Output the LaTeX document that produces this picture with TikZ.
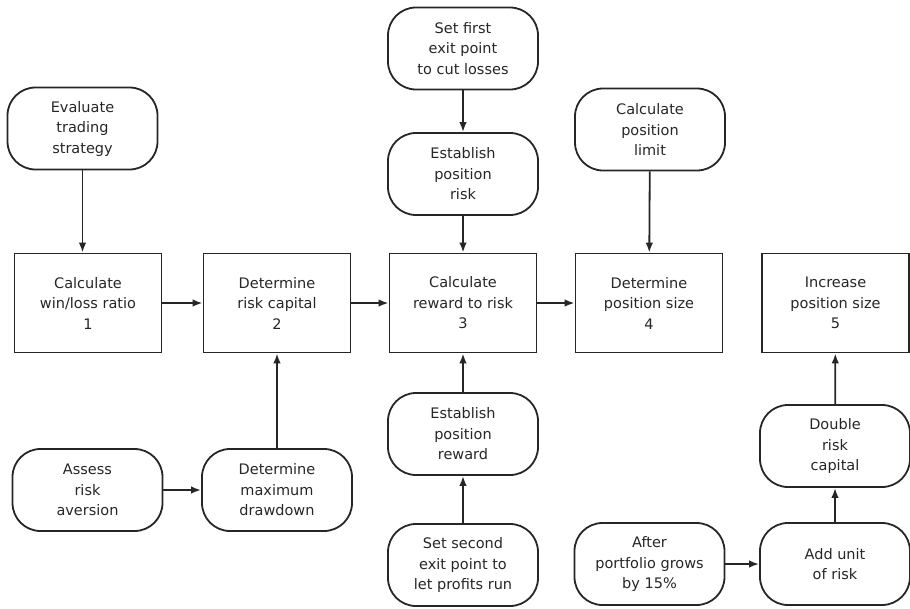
\documentclass[tikz,border=0pt]{standalone}
\usepackage{fontspec}
\setmainfont{DejaVu Sans}
\usetikzlibrary{arrows.meta}
\begin{document}
\begin{tikzpicture}[x=1pt,y=-1pt,
  base/.style={draw=black!85, line width=1.8pt, align=center, inner sep=0pt,
     font=\fontsize{14.5}{20.5}\selectfont, text=black!85},
  pill/.style={base, rounded corners=28pt, minimum width=150pt, minimum height=82pt},
  stepbox/.style={base, minimum width=147pt, minimum height=99pt},
  arr/.style={draw=black!85, line width=1.8pt, -{Latex[length=10pt,width=7.5pt]}}]
\useasboundingbox (0,0) rectangle (910,608);
% main row
\node[stepbox] (b1) at (88,303) {Calculate\\win/loss ratio\\1};
\node[stepbox] (b2) at (277,303) {Determine\\risk capital\\2};
\node[stepbox] (b3) at (463,303) {Calculate\\reward to risk\\3};
\node[stepbox] (b4) at (649,303) {Determine\\position size\\4};
\node[stepbox] (b5) at (835.5,303) {Increase\\position size\\5};
% pills
\node[pill] (eval) at (82.5,128.5) {Evaluate\\trading\\strategy};
\node[pill] (first) at (463,48.5) {Set first\\exit point\\to cut losses};
\node[pill] (erisk) at (463,174) {Establish\\position\\risk};
\node[pill] (limit) at (650,129.5) {Calculate\\position\\limit};
\node[pill] (assess) at (87.5,490) {Assess\\risk\\aversion};
\node[pill] (draw) at (277,490) {Determine\\maximum\\drawdown};
\node[pill] (erew) at (463,434) {Establish\\position\\reward};
\node[pill] (second) at (463,565) {Set second\\exit point to\\let profits run};
\node[pill] (double) at (835,446) {Double\\risk\\capital};
\node[pill] (after) at (649.5,564) {After\\portfolio grows\\by 15\%};
\node[pill] (unit) at (835,564) {Add unit\\of risk};
% connectors
\draw[arr] (eval.south) -- (eval.south |- b1.north);
\draw[arr] (b1) -- (b2);
\draw[arr] (b2) -- (b3);
\draw[arr] (b3) -- (b4);
\draw[arr] (first) -- (erisk);
\draw[arr] (erisk) -- (b3);
\draw[arr] (limit) -- (b4);
\draw[arr] (assess) -- (draw);
\draw[arr] (draw.north) -- (draw.north |- b2.south);
\draw[arr] (erew) -- (b3);
\draw[arr] (second) -- (erew);
\draw[arr] (after) -- (unit);
\draw[arr] (unit) -- (double);
\draw[arr] (double) -- (b5);
\end{tikzpicture}
\end{document}
